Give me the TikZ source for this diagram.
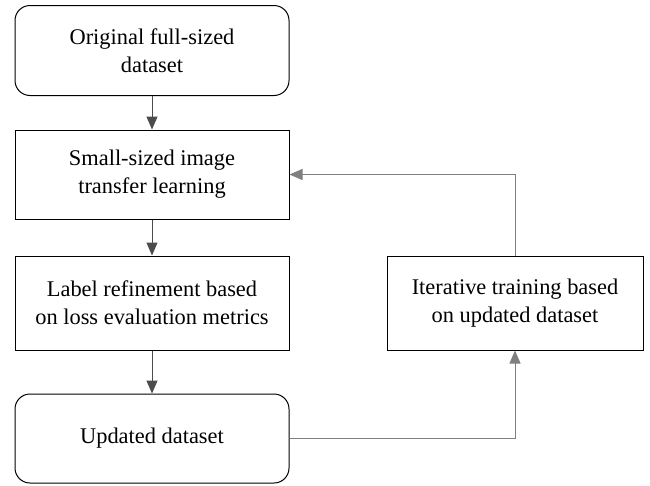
\documentclass[tikz,border=0pt]{standalone}
\usepackage{fontspec}
\setmainfont{Liberation Serif}
\newfontfamily\stagefont{Liberation Serif}
\usetikzlibrary{arrows.meta}
\begin{document}
\begin{tikzpicture}[x=1pt,y=-1pt,
    stage/.style={draw,line width=1pt,minimum width=274pt,minimum height=90pt,
        align=center,font=\stagefont\fontsize{22.4}{28}\selectfont,inner sep=0pt},
    dataset/.style={stage,rounded corners=15pt},
    flow/.style={line width=1pt,draw=black!70,-{Triangle[length=13pt,width=11pt]}},
    feedback/.style={flow,draw=black!50}]
    \useasboundingbox (0,0) rectangle (650,485);
    \node[dataset] (orig) at (152,50.5) {Original full-sized\\dataset};
    \node[stage,minimum height=89pt] (small) at (152,174.5) {Small-sized image\\transfer learning};
    \node[stage,minimum height=94pt] (refine) at (152,303) {Label refinement based\\on loss evaluation metrics};
    \node[dataset,minimum height=89pt] (upd) at (152,438.5) {Updated dataset};
    \node[stage,minimum width=256pt,minimum height=94pt] (iter) at (515,303) {Iterative training based\\on updated dataset};
    \draw[flow] (orig) -- (small);
    \draw[flow] (small) -- (refine);
    \draw[flow] (refine) -- (upd);
    \draw[feedback] (upd.east) -| (iter.south);
    \draw[feedback] (iter.north) |- (small.east);
\end{tikzpicture}
\end{document}
